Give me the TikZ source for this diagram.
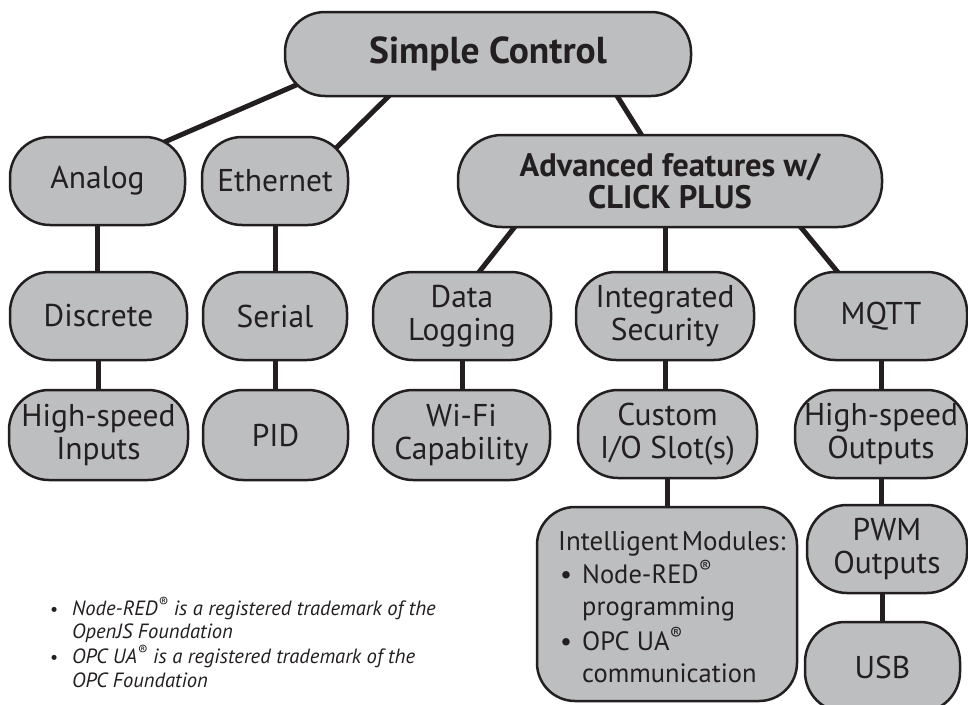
\documentclass[tikz,border=0pt]{standalone}
\usepackage{fontspec}
\setmainfont{PT Sans}
\usetikzlibrary{backgrounds}
\definecolor{boxfill}{RGB}{188,190,192}
\definecolor{ink}{RGB}{35,31,32}
\begin{document}
\begin{tikzpicture}[x=1pt,y=-1pt,
  box/.style={draw=ink, line width=2.5pt, fill=boxfill, rounded corners=40pt, text=ink,
    align=center, inner sep=0pt, font=\fontsize{31.5}{33}\selectfont},
  link/.style={draw=ink, line width=5pt},
  txt/.style={text=ink, inner sep=0pt, anchor=base west, font=\fontsize{26.5}{30}\selectfont},
  note/.style={text=ink, inner sep=0pt, anchor=base west, font=\fontsize{20.6}{24}\selectfont\itshape},
  dotnote/.style={text=ink, inner sep=0pt, anchor=base west, font=\fontsize{18}{24}\selectfont}]
\path[use as bounding box] (0,0) rectangle (968,704);
\clip (0,0) rectangle (968,704);

\node[box, minimum width=406pt, minimum height=84pt, font=\fontsize{37.5}{38}\selectfont\bfseries] (sc) at (488,54) {Simple Control};
\node[box, minimum width=175pt, minimum height=88pt] (analog) at (97.5,181) {Analog};
\node[box, minimum width=146pt, minimum height=88pt] (ether) at (275,181) {Ethernet};
\node[box, minimum width=424pt, minimum height=92pt, rounded corners=44pt, font=\fontsize{32.5}{32}\selectfont\bfseries] (adv) at (670,181) {Advanced features w/\\CLICK PLUS};
\node[box, minimum width=177pt, minimum height=88pt] (discrete) at (98.5,316) {Discrete};
\node[box, minimum width=144pt, minimum height=88pt] (serial) at (275,316) {Serial};
\node[box, minimum width=178pt, minimum height=88pt] (datalog) at (462,316) {Data\\Logging};
\node[box, minimum width=178pt, minimum height=88pt] (integ) at (665,316) {Integrated\\Security};
\node[box, minimum width=172pt, minimum height=88pt] (mqtt) at (881,316) {MQTT};
\node[box, minimum width=179pt, minimum height=90pt] (hsin) at (98.5,435) {High-speed\\Inputs};
\node[box, minimum width=145pt, minimum height=90pt] (pid) at (275.5,435) {PID};
\node[box, minimum width=177pt, minimum height=90pt] (wifi) at (461.5,435) {Wi-Fi\\Capability};
\node[box, minimum width=179pt, minimum height=88pt] (custom) at (667.5,434) {Custom\\I/O Slot(s)};
\node[box, minimum width=172pt, minimum height=88pt] (hsout) at (881,434) {High-speed\\Outputs};
\node[box, minimum width=260pt, minimum height=194pt, rounded corners=38pt] (intel) at (667,604) {};
\node[box, minimum width=160pt, minimum height=88pt] (pwm) at (887,549) {PWM\\Outputs};
\node[box, minimum width=155pt, minimum height=90pt] (usb) at (882.5,667) {USB};

\node[txt, font=\fontsize{27}{30}\selectfont] (imtitle) at (558,550) {Intelligent\hspace{0.12em}Modules:};
\node[txt] (imb1) at (560,583) {•};
\node[txt] (im1a) at (582,583) {Node-RED\textsuperscript{®}};
\node[txt] (im1b) at (582,615) {programming};
\node[txt] (imb2) at (560,650) {•};
\node[txt] (im2a) at (582,650) {OPC UA\textsuperscript{®}};
\node[txt] (im2b) at (582,682) {communication};

\node[dotnote] (nb1) at (50,615) {•};
\node[note] (n1a) at (72,615) {Node-RED\textsuperscript{®} is a registered trademark of the};
\node[note] (n1b) at (72,638) {OpenJS Foundation};
\node[dotnote] (nb2) at (50,663) {•};
\node[note] (n2a) at (72,663) {OPC UA\textsuperscript{®} is a registered trademark of the};
\node[note] (n2b) at (72,687) {OPC Foundation};

\begin{scope}[on background layer]
\fill[white] (0,0) rectangle (968,704);
\draw[link] ([shift={(35,-22)}]sc.south west) -- ([shift={(-35,12)}]analog.north east);
\draw[link] ([shift={(113,-9)}]sc.south west) -- ([shift={(-21,20)}]ether.north east);
\draw[link] ([shift={(-80,-9)}]sc.south east) -- ([shift={(-23,10)}]adv.north);
\draw[link] ([shift={(64,-9)}]adv.south west) -- ([shift={(11,9)}]datalog.north);
\draw[link] (integ.north) -- (integ.north |- adv.south);
\draw[link] ([shift={(-89,-9)}]adv.south east) -- ([shift={(-37,9)}]mqtt.north);
\draw[link] (analog.south) -- (analog.south |- discrete.north);
\draw[link] (discrete.south) -- (discrete.south |- hsin.north);
\draw[link] (ether.south) -- (ether.south |- serial.north);
\draw[link] (serial.south) -- (serial.south |- pid.north);
\draw[link] (datalog.south) -- (datalog.south |- wifi.north);
\draw[link] (integ.south) -- (integ.south |- custom.north);
\draw[link] (intel.north) -- (intel.north |- custom.south);
\draw[link] (mqtt.south) -- (mqtt.south |- hsout.north);
\draw[link] (hsout.south) -- (hsout.south |- pwm.north);
\draw[link] (usb.north) -- (usb.north |- pwm.south);
\end{scope}
\end{tikzpicture}
\end{document}
